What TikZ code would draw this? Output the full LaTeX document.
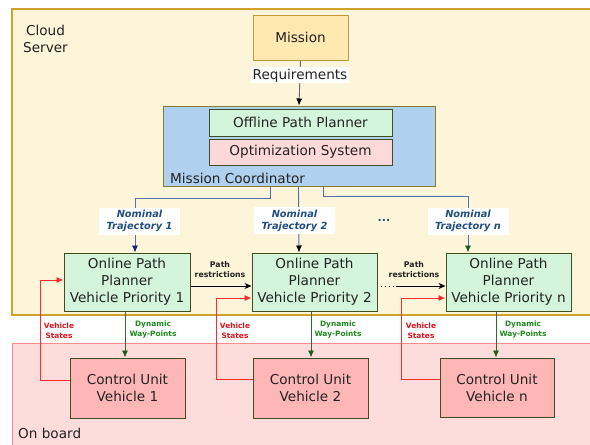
\documentclass[tikz,border=0pt]{standalone}
\usepackage{fontspec}
\setmainfont{DejaVu Sans}
\usetikzlibrary{arrows.meta,calc}
\definecolor{cloudbg}{HTML}{FDF5DA}
\definecolor{cloudbd}{HTML}{D4A22A}
\definecolor{boardbg}{HTML}{FFDCDC}
\definecolor{boardbd}{HTML}{FF8C8C}
\definecolor{missionbg}{HTML}{FFE9B0}
\definecolor{missionbd}{HTML}{BF9A3A}
\definecolor{mcbg}{HTML}{AFD0EE}
\definecolor{mcbd}{HTML}{8A7A30}
\definecolor{greenbg}{HTML}{D4F5DC}
\definecolor{pinkbg}{HTML}{FFD9D9}
\definecolor{cubg}{HTML}{FFB6B6}
\definecolor{boxbd}{HTML}{3F4F22}
\definecolor{bluel}{HTML}{5B6FA8}
\definecolor{nomtxt}{HTML}{1F4E7F}
\definecolor{navyhead}{HTML}{14237A}
\definecolor{greenhead}{HTML}{1F5A1F}
\definecolor{redl}{HTML}{FF2A2A}
\definecolor{redtxt}{HTML}{E8101A}
\definecolor{greentxt}{HTML}{1E8A1E}
\definecolor{greenl}{HTML}{2F6B2F}
\definecolor{txt}{HTML}{222222}
\tikzset{
  bigtxt/.style={font=\fontsize{13.6}{17}\selectfont, text=txt},
  boxnode/.style={draw=boxbd, line width=1pt, inner sep=0pt, align=center, bigtxt},
  nomlabel/.style={fill=white, text=nomtxt, align=center, inner sep=0pt, minimum width=81pt, minimum height=27pt,
     font=\fontsize{9.8}{12}\bfseries\itshape\selectfont},
  smalllbl/.style={align=center, inner sep=0pt, font=\fontsize{7.8}{9.5}\bfseries\selectfont},
  tinylbl/.style={align=center, inner sep=0pt, font=\fontsize{7.4}{10}\bfseries\selectfont},
  bluearrow/.style={draw=bluel, line width=0.9pt},
  redarrow/.style={draw=redl, line width=0.9pt, -{Latex[length=7pt,width=6pt]}},
  greenarrow/.style={draw=greenl, line width=0.9pt, -{Latex[length=7pt,width=6pt,color=greenhead]}},
  blackarrow/.style={draw=black, line width=0.9pt, -{Stealth[length=7pt,width=6pt]}}
}
\begin{document}
\begin{tikzpicture}[x=1pt,y=-1pt]
\clip (0,0) rectangle (590,445);
\fill[white] (0,0) rectangle (590,445);
% regions
\draw[draw=cloudbd, fill=cloudbg, line width=1.3pt] (12,9) rectangle (610,315);
\draw[draw=boardbd, fill=boardbg, line width=0.9pt] (12,343) rectangle (610,470);
\node[bigtxt, align=center] (cloud) at (45.5,39) {Cloud\\Server};
\node[bigtxt, anchor=west, inner sep=0pt] (onboard) at (18,433) {On board};

% mission
\node[boxnode, draw=missionbd, fill=missionbg, minimum width=95pt, minimum height=45pt] (mission) at (300.5,37.5) {Mission};
% mission coordinator
\node[draw=mcbd, fill=mcbg, line width=1pt, minimum width=272pt, minimum height=80pt, inner sep=0pt] (mc) at (299,146) {};
\node[boxnode, fill=greenbg, minimum width=183pt, minimum height=27pt] (offline) at (300.5,122.5) {Offline Path Planner};
\node[boxnode, fill=pinkbg, minimum width=183pt, minimum height=26pt] (optim) at (300.5,152) {Optimization System};
\node[bigtxt, anchor=west, inner sep=0pt] (mctext) at (170,178) {Mission Coordinator};

\draw[draw=black!60, line width=0.9pt, -{Latex[length=7pt,width=6pt,color=black]}] (mission.south) -- (mc.north)
  node[pos=0.33, fill=white, bigtxt, inner sep=1.5pt] (req) {Requirements};

% online planners
\node[boxnode, fill=greenbg, minimum width=126pt, minimum height=58pt] (op1) at (127,282) {Online Path\\Planner\\Vehicle Priority 1};
\node[boxnode, fill=greenbg, minimum width=125pt, minimum height=58pt] (op2) at (314.5,282) {Online Path\\Planner\\Vehicle Priority 2};
\node[boxnode, fill=greenbg, minimum width=125pt, minimum height=58pt] (opn) at (508.5,282) {Online Path\\Planner\\Vehicle Priority n};

% control units
\node[boxnode, fill=cubg, minimum width=115pt, minimum height=60pt] (cu1) at (127.5,388) {Control Unit\\Vehicle 1};
\node[boxnode, fill=cubg, minimum width=115pt, minimum height=60pt] (cu2) at (310.5,388) {Control Unit\\Vehicle 2};
\node[boxnode, fill=cubg, minimum width=114pt, minimum height=59pt] (cun) at (497,387.5) {Control Unit\\Vehicle n};

% nominal trajectories
\draw[bluearrow, -{Latex[length=7pt,width=6pt,color=navyhead]}] ([xshift=-29pt]mc.south) -- ++(0,12) -| ([xshift=8pt]op1.north);
\draw[bluearrow, -{Latex[length=7pt,width=6pt,color=black]}] ([xshift=-0.5pt]mc.south) -- ([xshift=-15.5pt]op2.north);
\draw[bluearrow, -{Latex[length=7pt,width=6pt,color=greenhead]}] ([xshift=24pt]mc.south) -- ++(0,10) -| ([xshift=-40.5pt]opn.north);
\node[nomlabel] (nom1) at (139.5,221) {Nominal\\Trajectory 1};
\node[nomlabel] (nom2) at (294.5,220.5) {Nominal\\Trajectory 2};
\node[nomlabel] (nomn) at (468,221) {Nominal\\Trajectory n};
\node[text=nomtxt, font=\fontsize{11}{12}\bfseries\selectfont, inner sep=0pt] (dots) at (384,220) {...};

% path restrictions
\draw[blackarrow] ([yshift=-4pt]op1.east) -- ([yshift=-4pt]op2.west);
\node[smalllbl, text=txt] (pr1) at (220,269.5) {Path\\restrictions};
\draw[black, line width=0.9pt, dash pattern=on 1pt off 3pt] ([yshift=-4pt]op2.east) ++(3,0) coordinate (d0) -- ++(13,0) coordinate (d1);
\draw[blackarrow] (d1) ++(2,0) -- ([yshift=-4pt]opn.west);
\node[smalllbl, text=txt] (pr2) at (414,269.5) {Path\\restrictions};

% vehicle states
\draw[redarrow] ([yshift=8pt]cu1.west) -- ++(-29,0) |- ([yshift=2pt]op1.west);
\draw[redarrow] ([yshift=9pt]cu2.west) -- ++(-36,0) |- ([yshift=-16pt]op2.west);
\draw[redarrow] ([yshift=8.5pt]cun.west) -- ++(-38,0) |- ([yshift=-16pt]opn.west);
\node[tinylbl, text=redtxt] (vs1) at (59,331) {Vehicle\\States};
\node[tinylbl, text=redtxt] (vs2) at (235,331) {Vehicle\\States};
\node[tinylbl, text=redtxt] (vsn) at (421,331) {Vehicle\\States};

% dynamic way-points
\draw[greenarrow] ([xshift=-2pt]op1.south) -- ([xshift=-2pt]op1.south |- cu1.north);
\draw[greenarrow] ([xshift=-3.5pt]op2.south) -- ([xshift=-3.5pt]op2.south |- cu2.north);
\draw[greenarrow] ([xshift=-12.5pt]opn.south) -- ([xshift=-12.5pt]opn.south |- cun.north);
\node[tinylbl, text=greentxt] (dw1) at (153,329) {Dynamic\\Way-Points};
\node[tinylbl, text=greentxt] (dw2) at (338,329) {Dynamic\\Way-Points};
\node[tinylbl, text=greentxt] (dwn) at (523,329) {Dynamic\\Way-Points};
\end{tikzpicture}
\end{document}
